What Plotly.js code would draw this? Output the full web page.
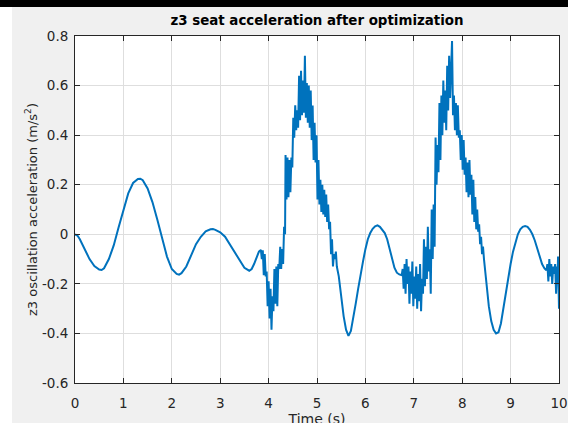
<!DOCTYPE html>
<html>
<head>
<meta charset="utf-8">
<script src="https://cdn.plot.ly/plotly-3.0.1.min.js"></script>
<style>html,body{margin:0;padding:0;background:#ffffff;overflow:hidden;}#chart{width:568px;height:432px;}</style>
</head>
<body>
<div id="chart"></div>
<script>
// Time (s)
const time = [
  0, 0.05, 0.1, 0.2, 0.3, 0.4, 0.5, 0.55, 0.6, 0.7, 0.8, 0.9, 1.0, 1.1, 1.2, 1.3, 1.35, 1.4, 1.5, 1.6, 1.7, 1.8, 1.9,
  2.0, 2.1, 2.15, 2.2, 2.3, 2.4, 2.5, 2.6, 2.7, 2.8, 2.85, 2.9, 3.0, 3.1, 3.2, 3.3, 3.4, 3.5, 3.6, 3.65, 3.7, 3.75, 3.8,
  3.84, 3.86, 3.88, 3.90, 3.92, 3.94, 3.96, 3.98, 4.00, 4.02, 4.04, 4.06, 4.08, 4.10, 4.12, 4.14, 4.16, 4.18, 4.20,
  4.22, 4.24, 4.26, 4.28, 4.30, 4.32, 4.34, 4.35, 4.37, 4.39, 4.41, 4.43, 4.45, 4.47, 4.49, 4.51, 4.53, 4.55, 4.57,
  4.59, 4.61, 4.63, 4.65, 4.67, 4.69, 4.71, 4.73, 4.75, 4.77, 4.79, 4.81, 4.83, 4.85, 4.87, 4.89, 4.91, 4.93, 4.95,
  4.97, 4.99, 5.01, 5.03, 5.05, 5.07, 5.09, 5.11, 5.13, 5.15, 5.17, 5.19, 5.21, 5.23, 5.25, 5.27, 5.29, 5.31, 5.33,
  5.35, 5.37, 5.39, 5.41,
  5.45, 5.5, 5.55, 5.6, 5.65, 5.7, 5.75, 5.8, 5.85, 5.9, 5.95, 6.0, 6.05, 6.1, 6.15, 6.2, 6.25, 6.3, 6.35, 6.4, 6.45,
  6.5, 6.55, 6.6, 6.65, 6.7,
  6.75, 6.77, 6.79, 6.81, 6.83, 6.85, 6.87, 6.89, 6.91, 6.93, 6.95, 6.97, 6.99, 7.01, 7.03, 7.05, 7.07, 7.09, 7.11,
  7.13, 7.15, 7.17, 7.19, 7.21, 7.23, 7.25, 7.27, 7.29, 7.31, 7.33, 7.35, 7.37, 7.39, 7.41, 7.43, 7.45, 7.47, 7.49,
  7.51, 7.53, 7.55, 7.57, 7.59, 7.61, 7.63, 7.65, 7.67, 7.69, 7.71, 7.73, 7.75, 7.77, 7.79, 7.81, 7.83, 7.85, 7.87,
  7.89, 7.91, 7.93, 7.95, 7.97, 7.99, 8.01, 8.03, 8.05, 8.07, 8.09, 8.11, 8.13, 8.15, 8.17, 8.19, 8.21, 8.23, 8.25,
  8.27, 8.29, 8.31, 8.33, 8.35, 8.37, 8.39, 8.41, 8.43, 8.45,
  8.5, 8.55, 8.6, 8.65, 8.7, 8.75, 8.8, 8.85, 8.9, 8.95, 9.0, 9.05, 9.1, 9.15, 9.2, 9.25, 9.3, 9.35, 9.4, 9.45, 9.5,
  9.55, 9.6, 9.65, 9.7,
  9.74, 9.76, 9.78, 9.80, 9.82, 9.84, 9.86, 9.88, 9.90, 9.92, 9.94, 9.96, 9.97, 9.98, 9.99, 10.0
];
// z3 oscillation acceleration (m/s^2)
const accel = [
  0, -0.005, -0.02, -0.06, -0.10, -0.128, -0.142, -0.144, -0.137, -0.10, -0.045, 0.027, 0.10, 0.165, 0.207, 0.223, 0.224, 0.218, 0.185, 0.13, 0.06, -0.015, -0.09,
  -0.14, -0.16, -0.163, -0.157, -0.13, -0.085, -0.04, -0.01, 0.012, 0.02, 0.021, 0.018, 0.008, -0.01, -0.04, -0.075, -0.105, -0.135, -0.147, -0.14, -0.12, -0.095, -0.07,
  -0.063, -0.10, -0.065, -0.165, -0.08, -0.17, -0.15, -0.29, -0.19, -0.34, -0.22, -0.385, -0.25, -0.31, -0.14, -0.28, -0.13, -0.29, -0.12,
  -0.14, -0.05, -0.14, -0.06, -0.12, 0.03, 0.00, 0.32, 0.14, 0.31, 0.15, 0.30, 0.17, 0.31, 0.27, 0.47, 0.39, 0.52, 0.42,
  0.50, 0.43, 0.64, 0.46, 0.66, 0.48, 0.62, 0.49, 0.72, 0.47, 0.61, 0.45, 0.60, 0.43, 0.58, 0.38, 0.52, 0.30, 0.45,
  0.29, 0.40, 0.14, 0.30, 0.12, 0.22, 0.09, 0.20, 0.08, 0.18, 0.07, 0.16, 0.05, 0.12, 0.02, 0.05, -0.08, -0.02, -0.13,
  -0.08, -0.10, -0.07, -0.13,
  -0.17, -0.26, -0.33, -0.385, -0.41, -0.39, -0.34, -0.28, -0.22, -0.16, -0.11, -0.06, -0.02, 0.005, 0.022, 0.032, 0.036, 0.03, 0.018, 0.005, -0.02,
  -0.06, -0.10, -0.135, -0.155, -0.162,
  -0.165, -0.14, -0.22, -0.12, -0.24, -0.10, -0.20, -0.13, -0.28, -0.15, -0.24, -0.11, -0.29, -0.17, -0.26, -0.13, -0.30, -0.16, -0.27,
  -0.12, -0.31, -0.18, -0.24, -0.02, -0.21, -0.05, -0.18, 0.03, -0.15, -0.06, -0.24, 0.10, -0.10, 0.12, -0.05, 0.39, 0.20, 0.36,
  0.25, 0.53, 0.30, 0.56, 0.40, 0.62, 0.45, 0.58, 0.42, 0.68, 0.50, 0.72, 0.55, 0.64, 0.78, 0.48, 0.56, 0.42, 0.53,
  0.40, 0.52, 0.39, 0.42, 0.30, 0.40, 0.26, 0.38, 0.24, 0.31, 0.17, 0.29, 0.15, 0.30, 0.16, 0.24, 0.08, 0.22, 0.05,
  0.15, 0.02, 0.10, 0.01, 0.04, -0.04, -0.01, -0.08, -0.05, -0.10,
  -0.20, -0.29, -0.35, -0.385, -0.40, -0.395, -0.36, -0.30, -0.23, -0.17, -0.12, -0.07, -0.03, 0.0, 0.02, 0.03, 0.033, 0.03, 0.018, 0.0, -0.025,
  -0.06, -0.095, -0.12, -0.138,
  -0.145, -0.12, -0.19, -0.10, -0.17, -0.12, -0.20, -0.13, -0.16, -0.12, -0.24, -0.13, -0.19, -0.09, -0.30, -0.30
];
const xTickVals = [0, 1, 2, 3, 4, 5, 6, 7, 8, 9, 10];
const yTickVals = [-0.6, -0.4, -0.2, 0, 0.2, 0.4, 0.6, 0.8];
const yTickText = ['-0.6', '-0.4', '-0.2', '0', '0.2', '0.4', '0.6', '0.8'];

const FONT = 'DejaVu Sans, Verdana, sans-serif';

const trace = {
  x: time, y: accel, type: 'scatter', mode: 'lines',
  line: {color: '#0072BD', width: 2}, hoverinfo: 'skip', showlegend: false
};

const axisCommon = {
  ticks: 'inside', ticklen: 5, tickwidth: 1, tickcolor: '#262626',
  showline: true, linecolor: '#262626', linewidth: 1, mirror: 'ticks',
  showgrid: true, gridcolor: '#dedede', gridwidth: 1, zeroline: false,
  tickfont: {family: FONT, size: 13.5, color: '#262626'},
  automargin: false
};

// figure is slightly taller than the window so the x-axis title is clipped at the bottom, as in the reference
const FIG_H = 432, M_B = 49;
const layout = {
  width: 568, height: FIG_H,
  margin: {l: 75, r: 9, t: 36, b: M_B, pad: 0},
  paper_bgcolor: '#f0f0f0', plot_bgcolor: '#ffffff',
  font: {family: FONT, size: 13.5, color: '#262626'},
  title: {
    text: '<b>z3 seat acceleration after optimization</b>',
    x: 0.5, xref: 'paper', xanchor: 'center',
    y: 1 - 20 / FIG_H, yref: 'container', yanchor: 'middle',
    font: {family: FONT, size: 13.4, color: '#000000'}
  },
  xaxis: Object.assign({}, axisCommon, {
    range: [0, 10], tickvals: xTickVals, ticktext: xTickVals.map(String),
    ticklabelstandoff: 8,
    title: {text: 'Time (s)', standoff: 1, font: {family: FONT, size: 14, color: '#262626'}}
  }),
  yaxis: Object.assign({}, axisCommon, {
    range: [-0.6, 0.8], tickvals: yTickVals, ticktext: yTickText,
    ticklabelstandoff: 3,
    title: {text: 'z3 oscillation acceleration (m/s<sup>2</sup>)', standoff: 1, font: {family: FONT, size: 13, color: '#262626'}}
  }),
  shapes: [
    {type: 'rect', xref: 'paper', yref: 'paper', x0: -0.16, x1: 1.03, y0: 1.0836, y1: 1.11,
     fillcolor: '#000000', line: {width: 0}, layer: 'above'},
    {type: 'rect', xref: 'paper', yref: 'paper', x0: -0.16, x1: -0.1302, y0: -0.16, y1: 1.0836,
     fillcolor: '#ffffff', line: {width: 0}, layer: 'above'}
  ]
};

Plotly.newPlot('chart', [trace], layout, {staticPlot: true, displayModeBar: false});
</script>
</body>
</html>
